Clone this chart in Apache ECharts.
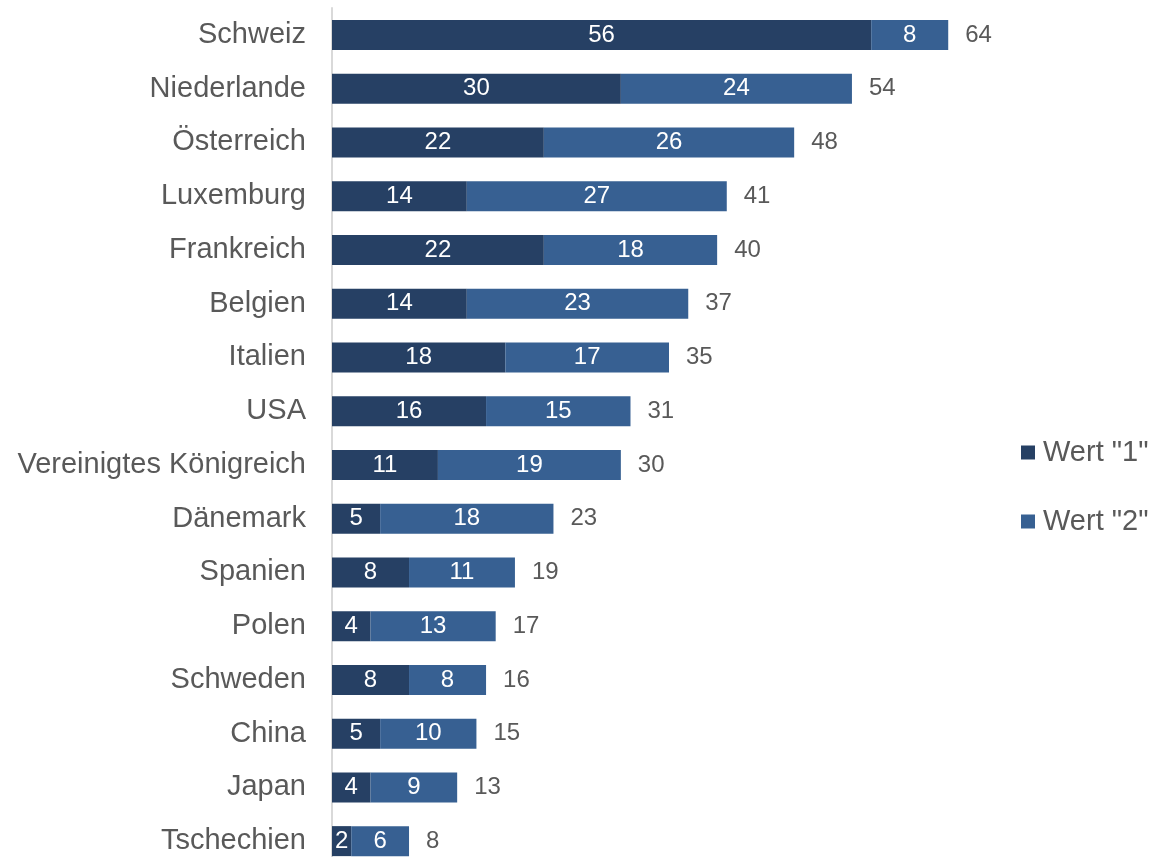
<!DOCTYPE html>
<html>
<head>
<meta charset="utf-8">
<script src="https://cdn.jsdelivr.net/npm/echarts@6/dist/echarts.min.js"></script>
<style>
  html, body { margin: 0; padding: 0; background: #ffffff; overflow: hidden; }
  /* taller than the window: the last row is cut by the bottom edge */
  #chart { width: 1153px; height: 870px; }
</style>
</head>
<body>
<div id="chart"></div>
<script>
// Countries, top to bottom
const categories = [
  'Schweiz', 'Niederlande', 'Österreich', 'Luxemburg', 'Frankreich', 'Belgien',
  'Italien', 'USA', 'Vereinigtes Königreich', 'Dänemark', 'Spanien', 'Polen',
  'Schweden', 'China', 'Japan', 'Tschechien'
];
const wert1 = [56, 30, 22, 14, 22, 14, 18, 16, 11, 5, 8, 4, 8, 5, 4, 2];
const wert2 = [8, 24, 26, 27, 18, 23, 17, 15, 19, 18, 11, 13, 8, 10, 9, 6];
const totals = wert1.map((v, i) => v + wert2[i]);
const seriesNames = ['Wert "1"', 'Wert "2"'];

const FONT = '"Liberation Sans", Arial, sans-serif';
const GREY = '#595959';

const chart = echarts.init(document.getElementById('chart'), null, { renderer: 'canvas' });

const insideLabel = {
  show: true,
  position: 'inside',
  color: '#ffffff',
  fontSize: 24,
  fontFamily: FONT
};

chart.setOption({
  animation: false,
  backgroundColor: '#ffffff',
  grid: { left: 332, right: 147, top: 8, height: 860, containLabel: false, outerBoundsMode: 'none' },
  legend: {
    data: seriesNames,
    orient: 'vertical',
    left: 1021,
    top: 438,
    padding: 0,
    itemGap: 40,
    itemWidth: 14,
    itemHeight: 14,
    icon: 'rect',
    textStyle: { color: GREY, fontSize: 29, fontFamily: FONT, padding: [0, 0, 0, 3] }
  },
  xAxis: {
    type: 'value',
    min: 0,
    max: 70,
    show: false
  },
  yAxis: {
    type: 'category',
    data: categories,
    inverse: true,
    axisLine: { show: true, lineStyle: { color: '#d9d9d9', width: 2 } },
    axisTick: { show: false },
    axisLabel: { color: GREY, fontSize: 29, fontFamily: FONT, margin: 26 },
    splitLine: { show: false }
  },
  series: [
    {
      name: seriesNames[0],
      type: 'bar',
      stack: 'sum',
      barWidth: 30,
      data: wert1,
      itemStyle: { color: '#264064' },
      label: insideLabel
    },
    {
      name: seriesNames[1],
      type: 'bar',
      stack: 'sum',
      barWidth: 30,
      data: wert2,
      itemStyle: { color: '#376092' },
      label: insideLabel
    },
    {
      name: 'Summe',
      type: 'bar',
      barWidth: 30,
      barGap: '-100%',
      silent: true,
      data: totals,
      itemStyle: { color: 'rgba(0,0,0,0)' },
      label: {
        show: true,
        position: 'right',
        distance: 17,
        color: GREY,
        fontSize: 24,
        fontFamily: FONT
      },
      z: 1
    }
  ]
});
</script>
</body>
</html>
